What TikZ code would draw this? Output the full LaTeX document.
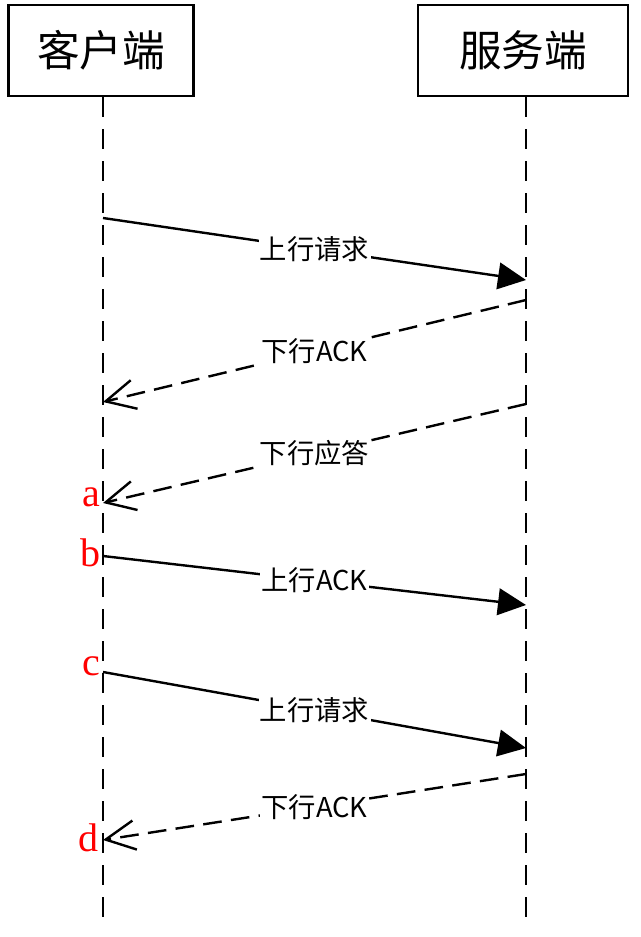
\documentclass[tikz,border=0pt]{standalone}
\usepackage{fontspec}
\setmainfont{Liberation Serif}
\newfontfamily\cjk{Noto Sans CJK SC}
\usetikzlibrary{arrows.meta}
\tikzset{
  party/.style={draw, line width=1.8pt, inner sep=0pt, font=\cjk\fontsize{32}{32}\selectfont},
  life/.style={line width=1.9pt, dash pattern=on 15pt off 9pt},
  msg/.style={fill=white, inner sep=1pt, font=\cjk\fontsize{20.5}{20.5}\selectfont},
  tag/.style={text=red, inner sep=0pt, font=\fontsize{30}{30}\selectfont},
  req/.style={line width=1.8pt, -{Triangle[length=21pt,width=20pt]}},
  rsp/.style={line width=1.8pt, dash pattern=on 14pt off 7pt, -{Straight Barb[length=22pt,width=22pt,line width=1.8pt]}}
}
\begin{document}
\begin{tikzpicture}[x=0.75pt,y=-0.75pt]
  \useasboundingbox (0,0) rectangle (640,937);
  % the two parties
  \node[party, minimum width=138.75pt, minimum height=68.25pt] (client) at (101,50.5) {客户端};
  \node[party, minimum width=157.5pt, minimum height=68.25pt] (server) at (523,50.5) {服务端};
  \coordinate (cend) at (103,925);
  \coordinate (send) at (526,925);
  \draw[life] (client.south -| cend) -- (cend);
  \draw[life] (server.south -| send) -- (send);
  % end points on the lifelines
  \coordinate (c1) at (103,218);
  \coordinate (s1) at (526,280);
  \coordinate (s2) at (526,300);
  \coordinate (c2) at (103,402);
  \coordinate (s3) at (526,404);
  \coordinate (c3) at (103,503);
  \coordinate (c4) at (103,556);
  \coordinate (s4) at (526,605);
  \coordinate (c5) at (103,672);
  \coordinate (s5) at (526,748);
  \coordinate (s6) at (526,774);
  \coordinate (c6) at (103,840);
  % messages
  \draw[req] (c1) -- node[msg]{上行请求} (s1);
  \draw[rsp] (s2) -- node[msg]{下行ACK} (c2);
  \draw[rsp] (s3) -- node[msg]{下行应答} (c3);
  \draw[req] (c4) -- node[msg]{上行ACK} (s4);
  \draw[req] (c5) -- node[msg]{上行请求} (s5);
  \draw[rsp] (s6) -- node[msg]{下行ACK} (c6);
  % red marks
  \node[tag, anchor=east] (ta) at (101,497) {a};
  \node[tag, anchor=east] (tb) at (101,553) {b};
  \node[tag, anchor=east] (tc) at (101,666) {c};
  \node[tag, anchor=east] (td) at (99,838) {d};
\end{tikzpicture}
\end{document}
